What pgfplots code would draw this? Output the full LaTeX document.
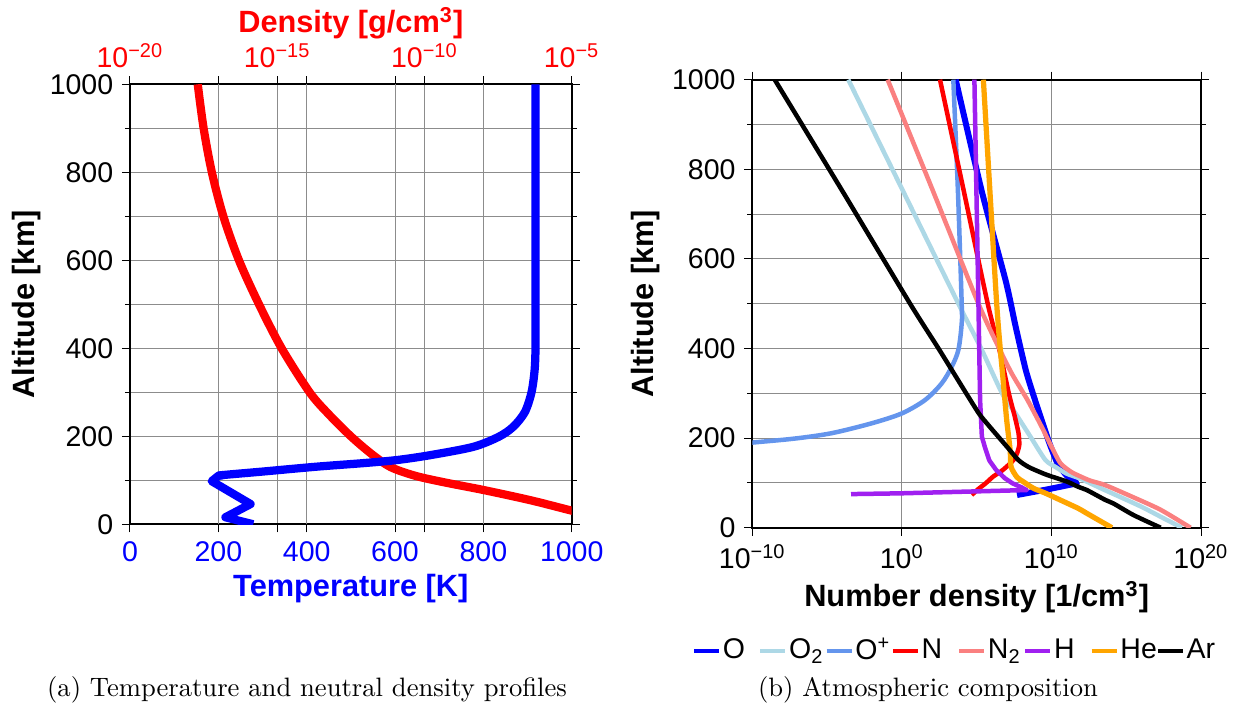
\documentclass[border=0pt]{standalone}
\usepackage{pgfplots}
\pgfplotsset{compat=1.18}
\usepackage{fontspec}
\setsansfont{Liberation Sans}
\definecolor{cO}{RGB}{0,0,255}
\definecolor{cOt}{RGB}{173,216,230}
\definecolor{cOp}{RGB}{100,149,237}
\definecolor{cN}{RGB}{255,0,0}
\definecolor{cNt}{RGB}{250,128,128}
\definecolor{cH}{RGB}{160,32,240}
\definecolor{cHe}{RGB}{255,165,0}
\newcommand{\tf}{\sffamily\fontsize{11.4}{13.7}\selectfont}
\newcommand{\lf}{\sffamily\bfseries\fontsize{12.3}{14.8}\selectfont}
\newcommand{\ex}[1]{10\textsuperscript{#1}}
\newcommand{\lb}[1]{\makebox[14.3pt][l]{#1}}
\pgfplotsset{
  base/.style={scale only axis, anchor=south west, ymin=0, ymax=1000,
    tick align=outside, major tick length=3.2pt, minor tick length=2pt,
    tick style={black, line width=0.4pt},
    axis line style={line width=0.8pt},
    grid style={black!45, line width=0.4pt},
    minor grid style={black!45, line width=0.4pt},
    ticklabel style={font=\tf},
    label style={font=\lf},
    ytick={0,200,...,1000}, yticklabels={0,200,400,600,800,1000},
    minor ytick={100,300,...,900},
  }
}
\begin{document}
\begin{tikzpicture}
\useasboundingbox (0,0) rectangle (496.4pt,284pt);
% ---------- left: density axis ----------
\begin{axis}[base, at={(52pt,74.28pt)}, width=176.68pt, height=176pt,
  xmin=-20, xmax=-5,
  xtick={-20,-15,-10,-5}, xticklabels={\ex{−20},\ex{−15},\ex{−10},\ex{−5}},
  extra x ticks={-17,-14,-11,-8}, extra x tick labels={},
  extra x tick style={grid=major},
  xticklabel pos=right, xticklabel style={text=red},
  grid=both,
  xlabel={Density [g/cm\textsuperscript{3}]},
  xlabel style={text=red, at={(axis description cs:0.5,1.1166)}, anchor=base},
  ylabel={Altitude [km]},
  ylabel style={at={(axis description cs:-0.2332,0.5)}, anchor=center},
]
\addplot[red, line width=3.3pt, line join=round, smooth] table {
-17.70 1000
-17.50 900
-17.22 800
-16.83 700
-16.30 600
-15.62 500
-14.85 400
-13.90 300
-13.25 250
-12.50 200
-11.80 160
-11.15 130
-10.30 110
-9.30 95
-8.00 78
-6.42 55
-5.06 32
-3.20 0
};
\end{axis}
% ---------- left: temperature axis ----------
\begin{axis}[base, at={(52pt,74.28pt)}, width=176.68pt, height=176pt,
  xmin=0, xmax=1000,
  xtick={0,200,...,1000}, xticklabels={0,200,400,600,800,1000},
  xticklabel pos=left, xticklabel style={text=blue},
  ytick=\empty, minor ytick={}, yticklabels={},
  axis line style={draw=none}, tick style={draw=none},
  xlabel={Temperature [K]},
  xlabel style={text=blue, at={(axis description cs:0.5,-0.165)}, anchor=base},
]
\addplot[blue, line width=3.3pt, line join=round] table {
279 0
216 16
273 46
185 98
200 110
211 112
};
\addplot[blue, line width=3.3pt, line join=round, smooth, tension=0.5] table {
200 110
211 112
302 120
423 131
528 139
604 146
679 157
777 176
835 199
868 222
894 255
909 300
916 350
918 400
918 500
918 1000
};
\end{axis}
% ---------- right: composition ----------
\begin{axis}[base, at={(300.92pt,72.92pt)}, width=179.48pt, height=179.2pt,
  xmin=-10, xmax=20,
  xtick={-10,0,10,20}, xticklabels={\ex{−10},\ex{0},\ex{10},\ex{20}},
  grid=both,
  xlabel={Number density [1/cm\textsuperscript{3}]},
  xlabel style={at={(axis description cs:0.5,-0.177)}, anchor=base},
  ylabel={Altitude [km]},
  ylabel style={at={(axis description cs:-0.239,0.5)}, anchor=center},
  legend columns=8,
  legend cell align=left,
  legend image code/.code={\draw[#1, line width=1.4pt] (0pt,0pt) -- (10pt,0pt);},
  legend style={draw=none, fill=none, inner sep=0pt, font=\tf,
    at={(axis description cs:-0.1344,-0.275)}, anchor=west,
    nodes={inner sep=0pt},
    /tikz/every odd column/.append style={column sep=0.8pt},
    /tikz/every even column/.append style={column sep=0pt}},
]
\addplot[cO, line width=2.4pt, line join=round, smooth, tension=0.4] table {
3.60 1000
5.35 750
6.95 550
7.60 450
8.30 350
8.95 280
9.45 230
9.85 190
10.20 160
10.45 140
10.80 125
11.15 112
11.70 99
};
\addlegendentry{\lb{O}}
\addplot[cO, line width=2.4pt, line join=round, forget plot] table {
11.15 112
11.70 99
9.80 86
7.70 73
};
\addplot[cOt, line width=1.8pt, line join=round, smooth, tension=0.4] table {
-3.58 1000
0.10 750
3.78 500
5.30 400
6.70 300
7.60 255
8.60 203
9.60 151
10.30 135
11.00 121
11.90 110
12.60 99
13.50 85
14.10 76
16.00 47
17.50 21
18.72 0
};
\addlegendentry{\lb{O\textsubscript{2}}}
\addplot[cOp, line width=1.8pt, line join=round, smooth, tension=0.5] table {
3.44 1000
3.75 750
4.00 500
4.00 456
3.78 397
3.33 359
2.66 322
1.55 285
-0.01 255
-2.02 233
-4.69 211
-7.15 199
-10.0 190
-13.0 181
};
\addlegendentry{\lb{O\textsuperscript{+}}}
\addplot[cN, line width=1.8pt, line join=round, smooth, tension=0.4] table {
2.55 1000
4.15 750
5.74 500
6.50 400
7.15 300
7.55 248
7.80 211
7.85 185
7.70 166
7.46 151
7.00 136
6.60 125
6.10 114
5.60 99
5.10 86
4.67 73
};
\addlegendentry{\lb{N}}
\addplot[cNt, line width=1.8pt, line join=round, smooth, tension=0.4] table {
-0.95 1000
2.10 750
5.12 500
6.45 404
7.35 344
8.40 285
9.35 225
10.00 181
10.60 144
11.30 125
11.90 115
12.60 105
13.60 95
15.40 69
17.30 40
19.30 0
};
\addlegendentry{\lb{N\textsubscript{2}}}
\addplot[cH, line width=1.8pt, line join=round] table {
4.85 1000
5.12 500
5.23 285
5.35 203
5.55 180
5.85 150
6.30 129
6.90 110
7.40 99
8.00 90
8.35 84
-0.10 76.7
-3.40 75
};
\addlegendentry{\lb{H}}
\addplot[cHe, line width=2.1pt, line join=round, smooth, tension=0.4] table {
5.45 1000
6.34 500
6.79 322
7.01 240
7.24 173
7.30 136
7.69 113
8.10 103
8.80 88
9.60 77
10.58 62
11.80 43
12.37 32
14.04 0
};
\addlegendentry{\lb{He}}
\addplot[black, line width=1.8pt, line join=round, smooth, tension=0.4] table {
-8.50 1000
-3.95 750
0.55 500
2.45 400
4.30 300
5.15 255
5.68 233
6.45 203
7.02 181
7.79 151
8.50 135
9.69 118
11.03 103
11.81 91
12.37 84
13.60 62
14.15 54
15.50 28
17.30 0
};
\addlegendentry{\lb{Ar}}
\end{axis}
\node[font=\fontsize{10.65}{13}\selectfont, anchor=base] at (122.8pt,5.2pt) {(a) Temperature and neutral density profiles};
\node[font=\fontsize{10.65}{13}\selectfont, anchor=base] at (371.2pt,5.2pt) {(b) Atmospheric composition};
\end{tikzpicture}
\end{document}
